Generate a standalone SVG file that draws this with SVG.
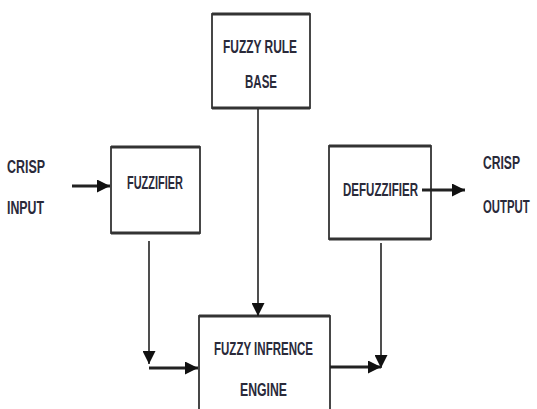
<svg xmlns="http://www.w3.org/2000/svg" width="537" height="409" viewBox="0 0 537 409">
<style>
.box{fill:#fff;stroke:#333;stroke-width:1.8}
.edge{fill:none;stroke:#333;stroke-width:3.2}
.t{font-family:"Liberation Sans",Arial,sans-serif;font-size:18px;font-weight:bold;fill:#2a2a3a}
.c{fill:none;stroke:#222;stroke-width:1.6}
.ct{fill:none;stroke:#222;stroke-width:3}
</style>
<defs>
<marker id="ah" viewBox="0 0 10 10" refX="10" refY="5" markerWidth="14" markerHeight="13" markerUnits="userSpaceOnUse" orient="auto">
<path d="M0,0 L10,5 L0,10 z" fill="#111"/>
</marker>
</defs>
<g id="crisp-input">
<text class="t" x="7" y="173" textLength="38" lengthAdjust="spacingAndGlyphs">CRISP</text>
<text class="t" x="7" y="214" textLength="37" lengthAdjust="spacingAndGlyphs">INPUT</text>
</g>
<g id="fuzzifier">
<rect class="box" x="111" y="147" width="89" height="86"/>
<path class="edge" d="M111,147H200M111,233H200"/>
<text class="t" x="127" y="189" textLength="56" lengthAdjust="spacingAndGlyphs">FUZZIFIER</text>
</g>
<g id="rule-base">
<rect class="box" x="212" y="14" width="98" height="94"/>
<path class="edge" d="M212,14H310M212,108H310"/>
<text class="t" x="223" y="53" textLength="74" lengthAdjust="spacingAndGlyphs">FUZZY RULE</text>
<text class="t" x="245" y="88" textLength="32" lengthAdjust="spacingAndGlyphs">BASE</text>
</g>
<g id="defuzzifier">
<rect class="box" x="329" y="146" width="102" height="93"/>
<path class="edge" d="M329,146H431M329,239H431"/>
<text class="t" x="343" y="196" textLength="75" lengthAdjust="spacingAndGlyphs">DEFUZZIFIER</text>
</g>
<g id="crisp-output">
<text class="t" x="483" y="169" textLength="37" lengthAdjust="spacingAndGlyphs">CRISP</text>
<text class="t" transform="translate(483,213) scale(0.63,1)">OUTPUT</text>
</g>
<g id="inference-engine">
<rect class="box" x="199" y="316" width="131" height="100"/>
<path class="edge" d="M199,316H330"/>
<text class="t" x="214" y="355" textLength="99" lengthAdjust="spacingAndGlyphs">FUZZY INFRENCE</text>
<text class="t" x="240" y="396" textLength="47" lengthAdjust="spacingAndGlyphs">ENGINE</text>
</g>
<g id="connectors">
<path class="ct" d="M72,186H110" marker-end="url(#ah)"/>
<path class="c" d="M149,241V364" marker-end="url(#ah)"/>
<path class="ct" d="M149,368H198" marker-end="url(#ah)"/>
<path class="c" d="M258,109V316" marker-end="url(#ah)"/>
<path class="c" d="M381,243V368" marker-end="url(#ah)"/>
<path class="ct" d="M330,367H381" marker-end="url(#ah)"/>
<path class="ct" d="M422,190H465" marker-end="url(#ah)"/>
</g>
</svg>
